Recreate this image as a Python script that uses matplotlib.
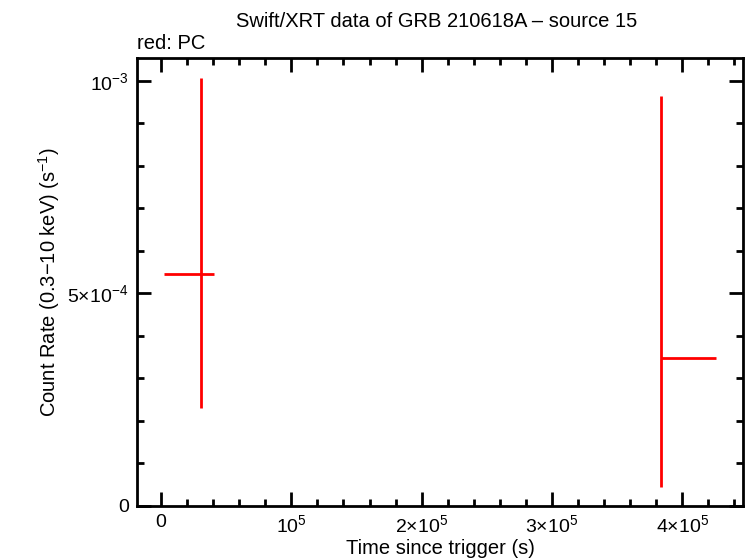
import numpy as np
import matplotlib
matplotlib.use('Agg')
import matplotlib.pyplot as plt
from matplotlib.ticker import FixedLocator, MultipleLocator

plt.rcParams['font.family'] = ['Liberation Sans', 'DejaVu Sans']
plt.rcParams['mathtext.fontset'] = 'custom'
plt.rcParams['mathtext.rm'] = 'Liberation Sans'
plt.rcParams['mathtext.it'] = 'Liberation Sans'

# data (PC mode)
t       = np.array([3.09e4, 3.84e5])
t_lo    = np.array([2.3e3, 3.84e5])
t_hi    = np.array([4.07e4, 4.257e5])
rate    = np.array([5.46e-4, 3.49e-4])
rate_lo = np.array([2.31e-4, 4.4e-5])
rate_hi = np.array([1.007e-3, 9.64e-4])

xticks  = [0, 1e5, 2e5, 3e5, 4e5]
xlabels = ['0', r'$10^5$', r'$2{\times}10^5$', r'$3{\times}10^5$', r'$4{\times}10^5$']
yticks  = [0, 5e-4, 1e-3]
ylabels = ['0', r'$5{\times}10^{-4}$', r'$10^{-3}$']

fig = plt.figure(figsize=(7.46, 5.58), dpi=100)
ax = fig.add_axes([0.1836, 0.0932, 0.8124, 0.8028])

ax.errorbar(t, rate, xerr=[t - t_lo, t_hi - t], yerr=[rate - rate_lo, rate_hi - rate],
            fmt='none', ecolor='#ff0000', elinewidth=2, capsize=0)

ax.set_xlim(-1.85e4, 4.467e5)
ax.set_ylim(0, 1.054e-3)

ax.xaxis.set_major_locator(FixedLocator(xticks))
ax.set_xticklabels(xlabels)
ax.xaxis.set_minor_locator(MultipleLocator(2e4))
ax.yaxis.set_major_locator(FixedLocator(yticks))
ax.set_yticklabels(ylabels)
ax.yaxis.set_minor_locator(MultipleLocator(1e-4))

ax.tick_params(which='both', direction='in', top=True, right=True, width=2, labelsize=14, pad=6)
ax.tick_params(which='major', length=10)
ax.tick_params(which='minor', length=5)
for s in ax.spines.values():
    s.set_linewidth(2)

ax.set_xlabel('Time since trigger (s)', fontsize=14.5, labelpad=2)
ax.set_ylabel('Count Rate (0.3\u221210 keV) (s$^{-1}$)', fontsize=14.5, labelpad=4)
fig.text(0.585, 0.962, 'Swift/XRT data of GRB 210618A \u2013 source 15', ha='center', va='center', fontsize=14.5)
fig.text(0.1836, 0.922, 'red: PC', ha='left', va='center', fontsize=14.5)

fig.savefig('out.png', dpi=100)
